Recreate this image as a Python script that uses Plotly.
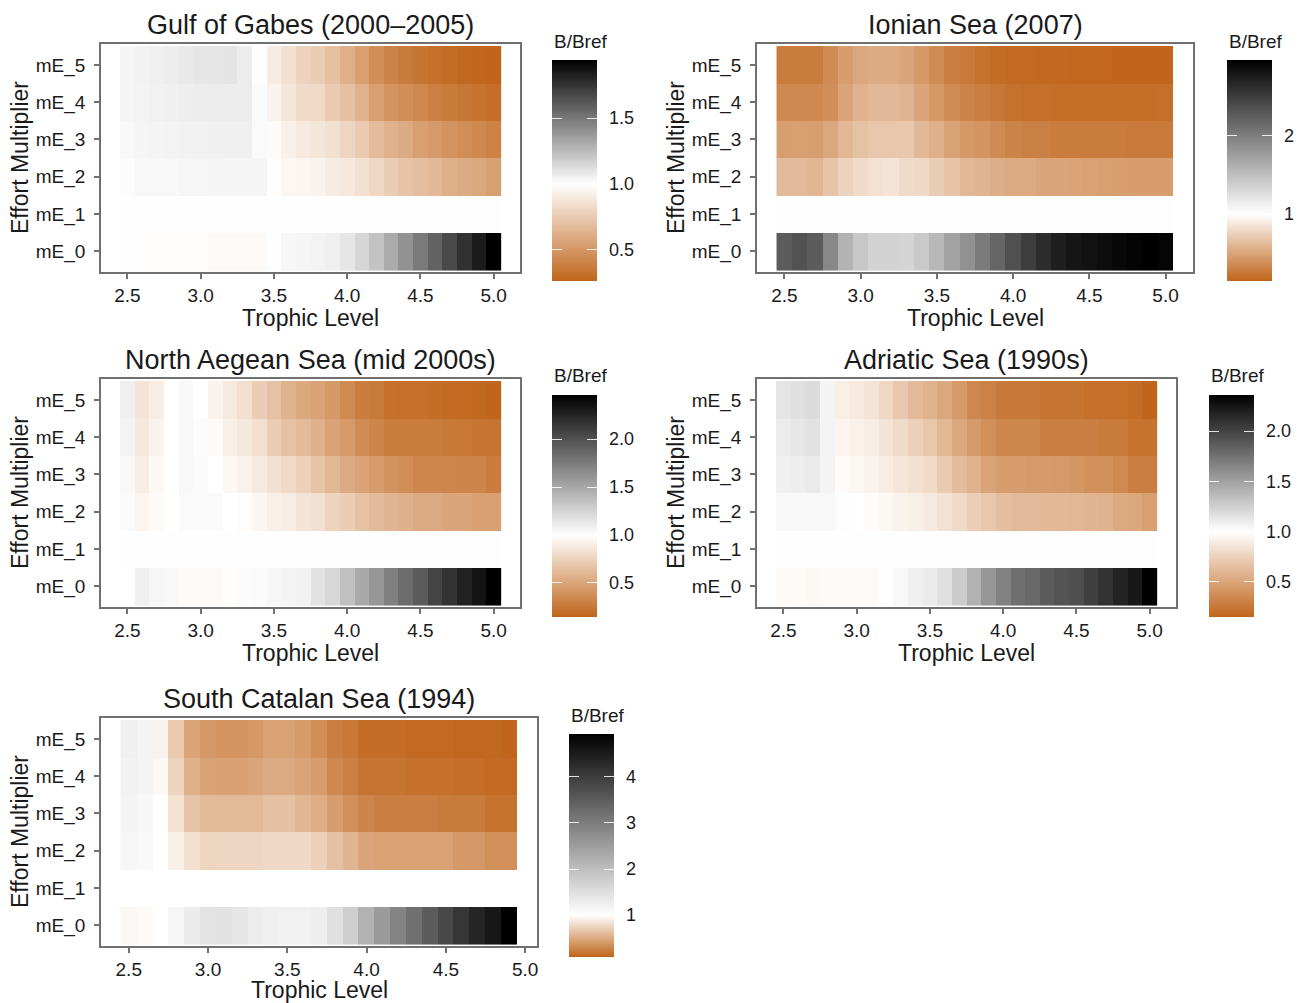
import plotly.graph_objects as go

W, H = 1302, 1003
OFF = 8  # page body margin offsets the figure
FONT = "Liberation Sans, Arial, Helvetica, sans-serif"

# trophic level bins
tl_26 = [round(2.5 + 0.1 * i, 1) for i in range(26)]
tl_25 = tl_26[:25]
rows = ["mE_0", "mE_1", "mE_2", "mE_3", "mE_4", "mE_5"]

# B/Bref per row (mE_0 .. mE_5)
gabes = [
    [1.005, 1.005, 0.995, 0.995, 0.995, 0.99, 0.97, 0.97, 0.97, 0.97, 1.005, 1.03, 1.037, 1.044, 1.059, 1.093, 1.15, 1.22, 1.31, 1.40, 1.49, 1.58, 1.67, 1.76, 1.84, 1.94],
    [1.005] * 26,
    [1.01, 1.026, 1.026, 1.026, 1.033, 1.033, 1.037, 1.037, 1.037, 1.037, 0.99, 0.96, 0.95, 0.94, 0.91, 0.89, 0.85, 0.81, 0.76, 0.72, 0.69, 0.66, 0.62, 0.60, 0.58, 0.55],
    [1.026, 1.037, 1.04, 1.045, 1.048, 1.052, 1.055, 1.059, 1.059, 1.02, 0.98, 0.93, 0.90, 0.88, 0.85, 0.80, 0.75, 0.68, 0.63, 0.60, 0.54, 0.52, 0.49, 0.46, 0.43, 0.40],
    [1.037, 1.045, 1.052, 1.055, 1.063, 1.066, 1.07, 1.07, 1.07, 1.02, 0.94, 0.88, 0.83, 0.82, 0.75, 0.70, 0.63, 0.54, 0.49, 0.46, 0.43, 0.39, 0.37, 0.35, 0.33, 0.31],
    [1.037, 1.048, 1.059, 1.07, 1.081, 1.092, 1.096, 1.10, 1.07, 1.005, 0.91, 0.85, 0.79, 0.76, 0.70, 0.62, 0.54, 0.46, 0.41, 0.37, 0.34, 0.32, 0.30, 0.28, 0.27, 0.265],
]
ionian = [
    [2.26, 2.34, 2.26, 1.92, 1.59, 1.43, 1.34, 1.34, 1.33, 1.42, 1.55, 1.71, 1.85, 2.02, 2.18, 2.35, 2.50, 2.63, 2.73, 2.80, 2.83, 2.87, 2.91, 2.94, 2.97, 2.93],
    [1.005] * 26,
    [0.615, 0.615, 0.59, 0.67, 0.75, 0.80, 0.83, 0.845, 0.80, 0.78, 0.72, 0.67, 0.60, 0.58, 0.55, 0.52, 0.52, 0.50, 0.50, 0.49, 0.48, 0.47, 0.46, 0.45, 0.45, 0.45],
    [0.46, 0.47, 0.46, 0.51, 0.60, 0.66, 0.69, 0.69, 0.69, 0.61, 0.56, 0.48, 0.43, 0.41, 0.35, 0.31, 0.29, 0.29, 0.27, 0.27, 0.27, 0.27, 0.27, 0.26, 0.26, 0.26],
    [0.34, 0.34, 0.34, 0.37, 0.50, 0.57, 0.61, 0.61, 0.58, 0.50, 0.43, 0.36, 0.31, 0.28, 0.24, 0.21, 0.20, 0.20, 0.19, 0.19, 0.19, 0.19, 0.19, 0.19, 0.19, 0.20],
    [0.27, 0.27, 0.27, 0.35, 0.45, 0.51, 0.53, 0.53, 0.50, 0.43, 0.36, 0.28, 0.26, 0.21, 0.18, 0.17, 0.17, 0.16, 0.16, 0.15, 0.15, 0.15, 0.14, 0.14, 0.14, 0.14],
]
aegean = [
    [1.00, 1.086, 1.05, 1.04, 0.975, 0.97, 0.97, 0.99, 1.02, 1.03, 1.05, 1.063, 1.074, 1.166, 1.23, 1.36, 1.49, 1.60, 1.73, 1.84, 1.94, 2.07, 2.17, 2.27, 2.35, 2.46],
    [1.005] * 26,
    [1.03, 0.94, 0.97, 1.00, 1.03, 1.03, 1.03, 1.00, 0.99, 0.95, 0.91, 0.90, 0.85, 0.83, 0.76, 0.72, 0.66, 0.62, 0.59, 0.56, 0.53, 0.53, 0.50, 0.50, 0.47, 0.47],
    [1.04, 0.90, 0.96, 1.00, 1.04, 1.03, 1.00, 0.96, 0.92, 0.88, 0.83, 0.79, 0.74, 0.67, 0.60, 0.53, 0.49, 0.45, 0.40, 0.37, 0.33, 0.33, 0.33, 0.32, 0.32, 0.28],
    [1.07, 0.87, 0.93, 1.00, 1.04, 1.02, 0.97, 0.91, 0.87, 0.82, 0.72, 0.66, 0.62, 0.56, 0.49, 0.44, 0.36, 0.32, 0.27, 0.27, 0.27, 0.27, 0.25, 0.25, 0.23, 0.23],
    [1.09, 0.85, 0.90, 1.00, 1.04, 1.00, 0.93, 0.88, 0.82, 0.72, 0.66, 0.58, 0.52, 0.49, 0.43, 0.35, 0.28, 0.26, 0.21, 0.20, 0.20, 0.19, 0.18, 0.17, 0.16, 0.145],
]
adriatic = [
    [0.966, 0.97, 0.96, 0.97, 0.975, 0.975, 0.975, 1.005, 1.04, 1.08, 1.107, 1.165, 1.27, 1.41, 1.56, 1.67, 1.77, 1.80, 1.87, 1.91, 1.94, 2.02, 2.09, 2.17, 2.23, 2.36],
    [1.005] * 26,
    [1.04, 1.04, 1.04, 1.04, 1.01, 1.00, 0.98, 0.96, 0.93, 0.91, 0.88, 0.84, 0.79, 0.73, 0.69, 0.64, 0.62, 0.62, 0.61, 0.61, 0.60, 0.59, 0.58, 0.53, 0.52, 0.47],
    [1.08, 1.09, 1.11, 1.06, 0.98, 0.96, 0.93, 0.90, 0.86, 0.83, 0.80, 0.71, 0.63, 0.57, 0.50, 0.46, 0.46, 0.45, 0.45, 0.44, 0.42, 0.39, 0.39, 0.35, 0.29, 0.29],
    [1.10, 1.13, 1.155, 1.06, 0.94, 0.92, 0.90, 0.85, 0.80, 0.74, 0.69, 0.60, 0.52, 0.44, 0.38, 0.33, 0.33, 0.33, 0.29, 0.29, 0.29, 0.29, 0.27, 0.27, 0.23, 0.23],
    [1.14, 1.166, 1.19, 1.06, 0.91, 0.88, 0.85, 0.78, 0.69, 0.62, 0.58, 0.52, 0.44, 0.34, 0.31, 0.26, 0.26, 0.26, 0.235, 0.235, 0.235, 0.21, 0.21, 0.21, 0.19, 0.155],
]
catalan = [
    [0.96, 0.97, 1.00, 1.14, 1.31, 1.43, 1.45, 1.39, 1.29, 1.25, 1.22, 1.22, 1.26, 1.48, 1.74, 2.19, 2.54, 2.89, 3.21, 3.51, 3.82, 4.10, 4.36, 4.58, 4.93],
    [1.005] * 25,
    [1.12, 1.09, 1.00, 0.905, 0.81, 0.75, 0.76, 0.76, 0.76, 0.77, 0.77, 0.77, 0.72, 0.63, 0.56, 0.47, 0.45, 0.45, 0.45, 0.45, 0.45, 0.40, 0.40, 0.34, 0.34],
    [1.17, 1.12, 1.00, 0.82, 0.66, 0.59, 0.59, 0.59, 0.59, 0.63, 0.63, 0.57, 0.52, 0.42, 0.34, 0.28, 0.24, 0.24, 0.24, 0.24, 0.22, 0.22, 0.22, 0.17, 0.17],
    [1.20, 1.17, 0.96, 0.745, 0.535, 0.455, 0.44, 0.44, 0.47, 0.50, 0.50, 0.46, 0.42, 0.30, 0.25, 0.18, 0.18, 0.18, 0.16, 0.16, 0.16, 0.145, 0.145, 0.12, 0.12],
    [1.23, 1.17, 0.92, 0.68, 0.46, 0.40, 0.37, 0.37, 0.39, 0.45, 0.45, 0.41, 0.33, 0.24, 0.20, 0.14, 0.14, 0.14, 0.12, 0.12, 0.12, 0.11, 0.11, 0.11, 0.09],
]

LOW = "#C0651B"
LINE = "#707070"


def px(x):
    return (x - OFF) / W


def py(y):
    return 1 - (y - OFF) / H


panels = [
    dict(title="Gulf of Gabes (2000\u20132005)", z=gabes, tl=tl_26, zmin=0.265, zmax=1.94,
         box=(101, 520, 44, 272), cb=(552, 60, 221), ticks=[0.5, 1.0, 1.5], fmt=".1f", xr=[2.32, 5.18]),
    dict(title="Ionian Sea (2007)", z=ionian, tl=tl_26, zmin=0.14, zmax=2.97,
         box=(757, 1193, 44, 272), cb=(1227, 60, 221), ticks=[1, 2], fmt="d", xr=[2.32, 5.18]),
    dict(title="North Aegean Sea (mid 2000s)", z=aegean, tl=tl_26, zmin=0.145, zmax=2.46,
         box=(101, 520, 379, 607), cb=(552, 395, 222), ticks=[0.5, 1.0, 1.5, 2.0], fmt=".1f", xr=[2.32, 5.18]),
    dict(title="Adriatic Sea (1990s)", z=adriatic, tl=tl_26, zmin=0.15, zmax=2.36,
         box=(757, 1176, 379, 607), cb=(1209, 395, 222), ticks=[0.5, 1.0, 1.5, 2.0], fmt=".1f", xr=[2.32, 5.18]),
    dict(title="South Catalan Sea (1994)", z=catalan, tl=tl_25, zmin=0.09, zmax=4.93,
         box=(101, 537, 718, 946), cb=(569, 734, 223), ticks=[1, 2, 3, 4], fmt="d", xr=[2.325, 5.075]),
]


def colorbar(cbx, cby, cblen, p, thickness=45, labels=False):
    # labelled bar uses invisible outside ticks to push labels off the bar;
    # overlay bars add the white inner tick marks on both edges
    cb = dict(
        x=px(cbx), xanchor="left", xpad=0,
        y=py(cby), yanchor="top", ypad=0,
        len=cblen, lenmode="pixels", thickness=thickness,
        outlinewidth=0, tickvals=p["ticks"], tickformat=p["fmt"],
        tickfont=dict(family=FONT, size=18, color="#1a1a1a"),
    )
    if labels:
        cb.update(ticks="outside", ticklen=9, tickcolor="rgba(0,0,0,0)")
    else:
        cb.update(ticks="inside", ticklen=10, tickwidth=1.2,
                  tickcolor="rgba(255,255,255,0.85)", showticklabels=False)
    return cb


fig = go.Figure()
annotations = []
layout = {}

for i, p in enumerate(panels):
    n = "" if i == 0 else str(i + 1)
    x0, x1, y0, y1 = p["box"]
    mid = (1 - p["zmin"]) / (p["zmax"] - p["zmin"])
    cscale = [[0, LOW], [mid, "#FFFFFF"], [1, "#000000"]]
    cbx, cby, cblen = p["cb"]
    bars = [
        colorbar(cbx, cby, cblen, p, labels=True),
        colorbar(cbx, cby, cblen, p),
        colorbar(cbx, cby, cblen, p, thickness=10),
    ]
    for cb in bars:
        fig.add_trace(go.Heatmap(
            x=p["tl"], y=rows, z=p["z"],
            zmin=p["zmin"], zmax=p["zmax"],
            colorscale=cscale,
            xaxis="x" + n, yaxis="y" + n,
            colorbar=cb, hoverinfo="skip" if cb is not bars[0] else None,
        ))
    axis_common = dict(
        showline=True, mirror=True, linecolor=LINE, linewidth=1.5,
        ticks="outside", ticklen=5, tickwidth=1.5, tickcolor=LINE,
        showgrid=False, zeroline=False,
        tickfont=dict(family=FONT, size=19, color="#1a1a1a"),
    )
    layout["xaxis" + n] = dict(
        axis_common, domain=[px(x0), px(x1)], range=p["xr"],
        tickvals=[2.5, 3.0, 3.5, 4.0, 4.5, 5.0], tickformat=".1f",
        anchor="y" + n,
    )
    layout["yaxis" + n] = dict(
        axis_common, domain=[py(y1), py(y0)], range=[-0.56, 5.56],
        type="category", categoryorder="array", categoryarray=rows,
        ticklabelstandoff=5, anchor="x" + n,
    )
    cx = (x0 + x1) / 2
    xt_y = min(y1 + 46, 990)
    annotations.append(dict(text=p["title"], x=px(cx), y=py(y0 - 19), xref="paper", yref="paper",
                            showarrow=False, xanchor="center", yanchor="middle",
                            font=dict(family=FONT, size=27, color="#1a1a1a")))
    annotations.append(dict(text="Trophic Level", x=px(cx), y=py(xt_y), xref="paper", yref="paper",
                            showarrow=False, xanchor="center", yanchor="middle",
                            font=dict(family=FONT, size=23, color="#1a1a1a")))
    annotations.append(dict(text="Effort Multiplier", x=px(x0 - 81), y=py((y0 + y1) / 2), xref="paper", yref="paper",
                            showarrow=False, xanchor="center", yanchor="middle", textangle=-90,
                            font=dict(family=FONT, size=23, color="#1a1a1a")))
    annotations.append(dict(text="B/Bref", x=px(cbx), y=py(cby - 19), xref="paper", yref="paper",
                            showarrow=False, xanchor="left", yanchor="middle",
                            font=dict(family=FONT, size=19, color="#1a1a1a")))

fig.update_layout(
    width=W, height=H, autosize=False,
    margin=dict(l=0, r=0, t=0, b=0),
    paper_bgcolor="white", plot_bgcolor="white",
    annotations=annotations,
    **layout,
)

fig.write_html("out.html")
